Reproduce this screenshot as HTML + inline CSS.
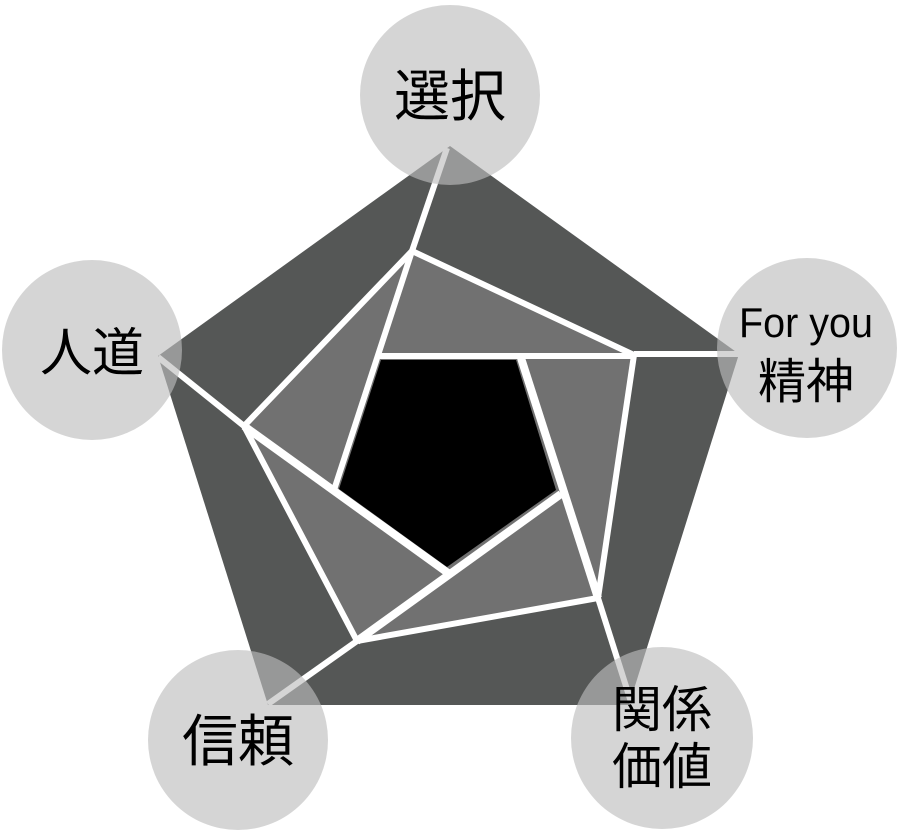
<!DOCTYPE html>
<html><head><meta charset="utf-8"><style>
html,body{margin:0;padding:0;background:#fff;}
svg{display:block;}
text{font-family:"Liberation Sans","Noto Sans CJK JP",sans-serif;fill:#000;}
</style></head><body>
<svg width="900" height="830" viewBox="0 0 900 830" xmlns="http://www.w3.org/2000/svg">
<polygon points="450,146 739,354 629,705 268,705 158,356" fill="#555756"/>
<polygon points="412,251 634,355 598,598 357,641 244,426" fill="#717171"/>
<polygon points="381,360 516,360 556,490 447,567 339,489" fill="#000"/>
<g stroke="#fff" stroke-width="6" fill="none" stroke-linecap="butt">
<polyline points="412,251 634,355 598,598 357,641 244,426 412,251"/>
<line x1="447" y1="148" x2="412" y2="251"/>
<line x1="634" y1="354" x2="739" y2="354"/>
<line x1="598" y1="598" x2="631" y2="702"/>
<line x1="357" y1="641" x2="268" y2="704"/>
<line x1="244" y1="426" x2="158" y2="357"/>
<line x1="412" y1="251" x2="334" y2="490"/>
<line x1="634" y1="356" x2="380" y2="356"/>
<line x1="598" y1="598" x2="521" y2="358" stroke-width="8"/>
<line x1="357" y1="641" x2="561" y2="494" stroke-width="8"/>
<line x1="244" y1="426" x2="448" y2="573" stroke-width="8"/>
</g>
<g fill="rgb(189,190,190)" fill-opacity="0.64">
<circle cx="450" cy="95" r="90"/>
<circle cx="807" cy="348" r="90"/>
<circle cx="92" cy="350" r="90"/>
<circle cx="238" cy="740" r="90"/>
<circle cx="662" cy="738" r="91"/>
</g>
<text x="450" y="116" font-size="56" text-anchor="middle">選択</text>
<text x="92" y="371" font-size="52" text-anchor="middle">人道</text>
<text x="806" y="337" font-size="42" text-anchor="middle" textLength="134" lengthAdjust="spacingAndGlyphs">For you</text>
<text x="806" y="398" font-size="48" text-anchor="middle">精神</text>
<text x="238" y="761" font-size="56" text-anchor="middle">信頼</text>
<text x="662" y="727" font-size="50" text-anchor="middle">関係</text>
<text x="662" y="784" font-size="50" text-anchor="middle">価値</text>
</svg>
</body></html>
